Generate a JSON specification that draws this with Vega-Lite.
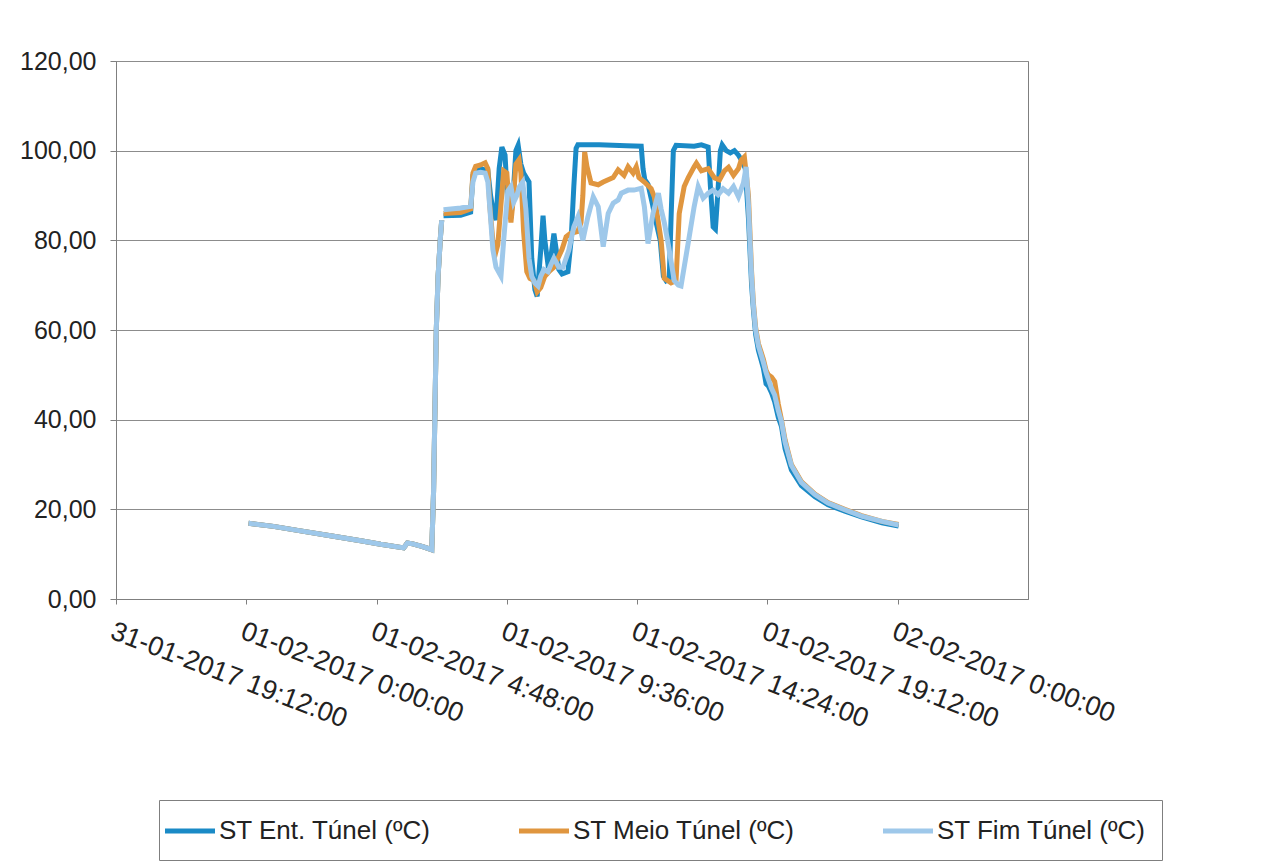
{
"$schema": "https://vega.github.io/schema/vega-lite/v6.json",
"width": 912, "height": 538,
"autosize": {"type": "none"},
"padding": {"left": 116, "top": 61, "right": 236, "bottom": 265},
"background": "white",
"config": {"font": "Liberation Sans", "view": {"stroke": "#7f7f7f", "strokeWidth": 1}},
"datasets": {
"pre": [
{"t":"2017-02-01T00:05","v":16.9},{"t":"2017-02-01T01:00","v":16.2},{"t":"2017-02-01T02:00","v":15.2},{"t":"2017-02-01T03:06","v":14.1},{"t":"2017-02-01T04:13","v":13.0},{"t":"2017-02-01T04:57","v":12.2},{"t":"2017-02-01T05:48","v":11.4},{"t":"2017-02-01T05:56","v":12.5},{"t":"2017-02-01T06:08","v":12.3},{"t":"2017-02-01T06:30","v":11.7},{"t":"2017-02-01T06:50","v":11.0},{"t":"2017-02-01T06:54","v":24},{"t":"2017-02-01T06:57","v":42},{"t":"2017-02-01T07:00","v":60},{"t":"2017-02-01T07:04","v":72},{"t":"2017-02-01T07:09","v":80.5},{"t":"2017-02-01T07:12","v":84.5}
],
"ent": [
{"t":"2017-02-01T07:16","v":85.5},{"t":"2017-02-01T07:54","v":85.6},{"t":"2017-02-01T08:16","v":86.3},{"t":"2017-02-01T08:21","v":94.5},{"t":"2017-02-01T08:27","v":95.8},{"t":"2017-02-01T08:38","v":96.0},{"t":"2017-02-01T08:54","v":95.5},{"t":"2017-02-01T09:00","v":90},{"t":"2017-02-01T09:05","v":87},{"t":"2017-02-01T09:12","v":84.5},{"t":"2017-02-01T09:19","v":96},{"t":"2017-02-01T09:25","v":100.8},{"t":"2017-02-01T09:32","v":99},{"t":"2017-02-01T09:38","v":88},{"t":"2017-02-01T09:45","v":85},{"t":"2017-02-01T09:51","v":92},{"t":"2017-02-01T09:56","v":100},{"t":"2017-02-01T10:01","v":101.2},{"t":"2017-02-01T10:07","v":97},{"t":"2017-02-01T10:13","v":95},{"t":"2017-02-01T10:25","v":93},{"t":"2017-02-01T10:31","v":76},{"t":"2017-02-01T10:38","v":69},{"t":"2017-02-01T10:43","v":67.5},{"t":"2017-02-01T10:51","v":78},{"t":"2017-02-01T10:56","v":85.5},{"t":"2017-02-01T11:00","v":80},{"t":"2017-02-01T11:07","v":74.5},{"t":"2017-02-01T11:13","v":76},{"t":"2017-02-01T11:20","v":81.5},{"t":"2017-02-01T11:25","v":78},{"t":"2017-02-01T11:31","v":73.5},{"t":"2017-02-01T11:38","v":72.5},{"t":"2017-02-01T11:51","v":73},{"t":"2017-02-01T11:58","v":80},{"t":"2017-02-01T12:04","v":92},{"t":"2017-02-01T12:09","v":100.5},{"t":"2017-02-01T12:13","v":101.3},{"t":"2017-02-01T13:00","v":101.3},{"t":"2017-02-01T14:00","v":101.1},{"t":"2017-02-01T14:33","v":101.0},{"t":"2017-02-01T14:37","v":96},{"t":"2017-02-01T14:41","v":93.5},{"t":"2017-02-01T14:48","v":92.5},{"t":"2017-02-01T14:58","v":88},{"t":"2017-02-01T15:06","v":84},{"t":"2017-02-01T15:15","v":80},{"t":"2017-02-01T15:22","v":72},{"t":"2017-02-01T15:28","v":71},{"t":"2017-02-01T15:35","v":71.5},{"t":"2017-02-01T15:39","v":85},{"t":"2017-02-01T15:44","v":100},{"t":"2017-02-01T15:50","v":101.2},{"t":"2017-02-01T16:30","v":101.0},{"t":"2017-02-01T16:46","v":101.3},{"t":"2017-02-01T17:01","v":100.8},{"t":"2017-02-01T17:06","v":92},{"t":"2017-02-01T17:12","v":83},{"t":"2017-02-01T17:17","v":82.5},{"t":"2017-02-01T17:22","v":90},{"t":"2017-02-01T17:28","v":100},{"t":"2017-02-01T17:32","v":101.3},{"t":"2017-02-01T17:41","v":100},{"t":"2017-02-01T17:50","v":99.5},{"t":"2017-02-01T17:59","v":100},{"t":"2017-02-01T18:08","v":99},{"t":"2017-02-01T18:17","v":97.5},{"t":"2017-02-01T18:23","v":96},{"t":"2017-02-01T18:30","v":85},{"t":"2017-02-01T18:37","v":70},{"t":"2017-02-01T18:41","v":64.5},{"t":"2017-02-01T18:46","v":59},{"t":"2017-02-01T18:52","v":55.5},{"t":"2017-02-01T19:03","v":51.5},{"t":"2017-02-01T19:09","v":48},{"t":"2017-02-01T19:14","v":47.5},{"t":"2017-02-01T19:21","v":46},{"t":"2017-02-01T19:28","v":44},{"t":"2017-02-01T19:36","v":40.5},{"t":"2017-02-01T19:43","v":38.5},{"t":"2017-02-01T19:51","v":33.5},{"t":"2017-02-01T20:05","v":28.8},{"t":"2017-02-01T20:27","v":25.3},{"t":"2017-02-01T20:57","v":22.8},{"t":"2017-02-01T21:26","v":21},{"t":"2017-02-01T22:03","v":19.6},{"t":"2017-02-01T22:40","v":18.3},{"t":"2017-02-01T23:25","v":17.0},{"t":"2017-02-02T00:02","v":16.3}
],
"meio": [
{"t":"2017-02-01T07:16","v":86.0},{"t":"2017-02-01T07:54","v":86.2},{"t":"2017-02-01T08:16","v":87.0},{"t":"2017-02-01T08:21","v":95},{"t":"2017-02-01T08:27","v":96.5},{"t":"2017-02-01T08:38","v":96.8},{"t":"2017-02-01T08:48","v":97.3},{"t":"2017-02-01T08:54","v":96},{"t":"2017-02-01T08:58","v":88},{"t":"2017-02-01T09:05","v":80},{"t":"2017-02-01T09:12","v":77.5},{"t":"2017-02-01T09:16","v":79},{"t":"2017-02-01T09:23","v":88},{"t":"2017-02-01T09:29","v":95.5},{"t":"2017-02-01T09:36","v":95},{"t":"2017-02-01T09:41","v":88},{"t":"2017-02-01T09:45","v":84},{"t":"2017-02-01T09:51","v":90},{"t":"2017-02-01T09:56","v":97},{"t":"2017-02-01T10:03","v":98},{"t":"2017-02-01T10:07","v":95},{"t":"2017-02-01T10:13","v":82},{"t":"2017-02-01T10:20","v":73},{"t":"2017-02-01T10:27","v":71.5},{"t":"2017-02-01T10:36","v":71},{"t":"2017-02-01T10:43","v":68.5},{"t":"2017-02-01T10:51","v":69.5},{"t":"2017-02-01T11:00","v":72},{"t":"2017-02-01T11:09","v":73},{"t":"2017-02-01T11:20","v":74},{"t":"2017-02-01T11:29","v":76},{"t":"2017-02-01T11:38","v":78},{"t":"2017-02-01T11:47","v":80.8},{"t":"2017-02-01T11:56","v":81.5},{"t":"2017-02-01T12:13","v":82},{"t":"2017-02-01T12:20","v":84},{"t":"2017-02-01T12:24","v":90},{"t":"2017-02-01T12:28","v":99.7},{"t":"2017-02-01T12:33","v":96.5},{"t":"2017-02-01T12:42","v":92.8},{"t":"2017-02-01T12:58","v":92.4},{"t":"2017-02-01T13:09","v":93},{"t":"2017-02-01T13:31","v":94},{"t":"2017-02-01T13:42","v":95.7},{"t":"2017-02-01T13:55","v":94.5},{"t":"2017-02-01T14:04","v":96.4},{"t":"2017-02-01T14:15","v":95},{"t":"2017-02-01T14:22","v":96.4},{"t":"2017-02-01T14:28","v":94},{"t":"2017-02-01T14:40","v":93},{"t":"2017-02-01T14:55","v":91.5},{"t":"2017-02-01T15:02","v":89.7},{"t":"2017-02-01T15:11","v":84},{"t":"2017-02-01T15:17","v":80},{"t":"2017-02-01T15:24","v":71.5},{"t":"2017-02-01T15:39","v":70.5},{"t":"2017-02-01T15:50","v":71},{"t":"2017-02-01T15:57","v":86},{"t":"2017-02-01T16:08","v":92},{"t":"2017-02-01T16:17","v":94},{"t":"2017-02-01T16:30","v":96.4},{"t":"2017-02-01T16:35","v":97.2},{"t":"2017-02-01T16:46","v":95.5},{"t":"2017-02-01T17:01","v":96},{"t":"2017-02-01T17:15","v":93.9},{"t":"2017-02-01T17:26","v":93.5},{"t":"2017-02-01T17:37","v":95.5},{"t":"2017-02-01T17:46","v":96.3},{"t":"2017-02-01T17:57","v":94.5},{"t":"2017-02-01T18:08","v":96},{"t":"2017-02-01T18:14","v":97.9},{"t":"2017-02-01T18:21","v":98.6},{"t":"2017-02-01T18:25","v":95},{"t":"2017-02-01T18:30","v":90},{"t":"2017-02-01T18:37","v":73},{"t":"2017-02-01T18:41","v":66},{"t":"2017-02-01T18:46","v":60.5},{"t":"2017-02-01T18:52","v":57},{"t":"2017-02-01T19:03","v":53.5},{"t":"2017-02-01T19:09","v":51},{"t":"2017-02-01T19:14","v":50},{"t":"2017-02-01T19:21","v":49.5},{"t":"2017-02-01T19:28","v":48.5},{"t":"2017-02-01T19:36","v":43.5},{"t":"2017-02-01T19:43","v":40},{"t":"2017-02-01T19:51","v":35.5},{"t":"2017-02-01T20:05","v":30},{"t":"2017-02-01T20:27","v":26.2},{"t":"2017-02-01T20:57","v":23.4},{"t":"2017-02-01T21:26","v":21.5},{"t":"2017-02-01T22:03","v":20},{"t":"2017-02-01T22:40","v":18.6},{"t":"2017-02-01T23:25","v":17.3},{"t":"2017-02-02T00:02","v":16.6}
],
"fim": [
{"t":"2017-02-01T07:16","v":86.8},{"t":"2017-02-01T07:54","v":87.2},{"t":"2017-02-01T08:16","v":87.6},{"t":"2017-02-01T08:21","v":93},{"t":"2017-02-01T08:27","v":95},{"t":"2017-02-01T08:38","v":95.2},{"t":"2017-02-01T08:48","v":95},{"t":"2017-02-01T08:54","v":93},{"t":"2017-02-01T09:00","v":85},{"t":"2017-02-01T09:05","v":78},{"t":"2017-02-01T09:12","v":74},{"t":"2017-02-01T09:23","v":72},{"t":"2017-02-01T09:29","v":80},{"t":"2017-02-01T09:38","v":91},{"t":"2017-02-01T09:45","v":92},{"t":"2017-02-01T09:51","v":88.5},{"t":"2017-02-01T09:58","v":90},{"t":"2017-02-01T10:04","v":92},{"t":"2017-02-01T10:11","v":93},{"t":"2017-02-01T10:18","v":87},{"t":"2017-02-01T10:25","v":76},{"t":"2017-02-01T10:31","v":72},{"t":"2017-02-01T10:38","v":70.5},{"t":"2017-02-01T10:45","v":69.8},{"t":"2017-02-01T10:51","v":72},{"t":"2017-02-01T10:58","v":73.5},{"t":"2017-02-01T11:07","v":73},{"t":"2017-02-01T11:13","v":74.5},{"t":"2017-02-01T11:20","v":76},{"t":"2017-02-01T11:31","v":74},{"t":"2017-02-01T11:40","v":74},{"t":"2017-02-01T11:53","v":77.8},{"t":"2017-02-01T12:04","v":83},{"t":"2017-02-01T12:13","v":85.2},{"t":"2017-02-01T12:24","v":80},{"t":"2017-02-01T12:35","v":85.2},{"t":"2017-02-01T12:47","v":89.7},{"t":"2017-02-01T12:58","v":87.5},{"t":"2017-02-01T13:09","v":78.6},{"t":"2017-02-01T13:20","v":86},{"t":"2017-02-01T13:31","v":88.3},{"t":"2017-02-01T13:42","v":89},{"t":"2017-02-01T13:49","v":90.5},{"t":"2017-02-01T14:04","v":91.2},{"t":"2017-02-01T14:17","v":91.2},{"t":"2017-02-01T14:33","v":91.6},{"t":"2017-02-01T14:40","v":87.5},{"t":"2017-02-01T14:48","v":79.3},{"t":"2017-02-01T14:59","v":86},{"t":"2017-02-01T15:11","v":90.5},{"t":"2017-02-01T15:17","v":87},{"t":"2017-02-01T15:24","v":84},{"t":"2017-02-01T15:33","v":79},{"t":"2017-02-01T15:46","v":71},{"t":"2017-02-01T15:55","v":70},{"t":"2017-02-01T16:01","v":69.8},{"t":"2017-02-01T16:17","v":79.5},{"t":"2017-02-01T16:30","v":87.5},{"t":"2017-02-01T16:39","v":92},{"t":"2017-02-01T16:50","v":89.4},{"t":"2017-02-01T17:01","v":90.5},{"t":"2017-02-01T17:12","v":91.2},{"t":"2017-02-01T17:23","v":90.2},{"t":"2017-02-01T17:34","v":91.5},{"t":"2017-02-01T17:46","v":90.5},{"t":"2017-02-01T17:57","v":92},{"t":"2017-02-01T18:08","v":89.7},{"t":"2017-02-01T18:19","v":92.8},{"t":"2017-02-01T18:25","v":96.4},{"t":"2017-02-01T18:30","v":88},{"t":"2017-02-01T18:37","v":72},{"t":"2017-02-01T18:41","v":65.5},{"t":"2017-02-01T18:46","v":60},{"t":"2017-02-01T18:52","v":56.5},{"t":"2017-02-01T19:03","v":52.8},{"t":"2017-02-01T19:09","v":50.5},{"t":"2017-02-01T19:14","v":49},{"t":"2017-02-01T19:21","v":47},{"t":"2017-02-01T19:28","v":45.5},{"t":"2017-02-01T19:36","v":42},{"t":"2017-02-01T19:43","v":39.6},{"t":"2017-02-01T19:51","v":35},{"t":"2017-02-01T20:05","v":29.8},{"t":"2017-02-01T20:27","v":26},{"t":"2017-02-01T20:57","v":23.3},{"t":"2017-02-01T21:26","v":21.4},{"t":"2017-02-01T22:03","v":19.9},{"t":"2017-02-01T22:40","v":18.5},{"t":"2017-02-01T23:25","v":17.3},{"t":"2017-02-02T00:02","v":16.5}
]
},
"encoding": {
  "x": {"field": "t", "type": "temporal",
    "scale": {"domain": [{"year":2017,"month":1,"date":31,"hours":19,"minutes":12},{"year":2017,"month":2,"date":2,"hours":4,"minutes":48}], "nice": false},
    "axis": {"title": null, "values": [
      {"year":2017,"month":1,"date":31,"hours":19,"minutes":12},
      {"year":2017,"month":2,"date":1,"hours":0,"minutes":0},
      {"year":2017,"month":2,"date":1,"hours":4,"minutes":48},
      {"year":2017,"month":2,"date":1,"hours":9,"minutes":36},
      {"year":2017,"month":2,"date":1,"hours":14,"minutes":24},
      {"year":2017,"month":2,"date":1,"hours":19,"minutes":12},
      {"year":2017,"month":2,"date":2,"hours":0,"minutes":0}],
      "format": "%d-%m-%Y %-H:%M:%S", "labelAngle": 21, "labelAlign": "left", "labelBaseline": "top",
      "labelPadding": 14, "labelFontSize": 27, "labelColor": "#222222", "labelOverlap": false, "labelBound": false, "labelFlush": false, "labelLimit": 0,
      "grid": false, "domainColor": "#7f7f7f", "tickColor": "#7f7f7f", "tickSize": 5}},
  "y": {"field": "v", "type": "quantitative",
    "scale": {"domain": [0, 120], "nice": false},
    "axis": {"title": null, "values": [0,20,40,60,80,100,120],
      "labelExpr": "replace(format(datum.value, '.2f'), '.', ',')",
      "labelFontSize": 25, "labelPadding": 14, "labelColor": "#222222", "tickSize": 6,
      "grid": true, "gridColor": "#8c8c8c", "domainColor": "#7f7f7f", "tickColor": "#7f7f7f"}}
},
"layer": [
  {"data": {"name": "pre"}, "mark": {"type": "line", "strokeWidth": 5},
   "encoding": {"color": {"datum": "ST Ent. Túnel (ºC)", "type": "nominal",
    "scale": {"domain": ["ST Ent. Túnel (ºC)", "ST Meio Túnel (ºC)", "ST Fim Túnel (ºC)"], "range": ["#1a8ac6", "#e0963f", "#9ec8ea"]},
    "legend": {"title": null, "orient": "none", "legendX": 43, "legendY": 739, "direction": "horizontal", "columns": 3, "columnPadding": 78,
      "symbolType": "M-2,0H2", "symbolSize": 625, "symbolStrokeWidth": 5, "labelOffset": 14, "labelFontSize": 26, "labelLimit": 0,
      "labelColor": "#222222", "strokeColor": "#7f7f7f", "padding": 16}}}},
  {"data": {"name": "ent"}, "mark": {"type": "line", "strokeWidth": 5}, "encoding": {"color": {"datum": "ST Ent. Túnel (ºC)", "type": "nominal"}}},
  {"data": {"name": "pre"}, "mark": {"type": "line", "strokeWidth": 5}, "encoding": {"color": {"datum": "ST Meio Túnel (ºC)", "type": "nominal"}}},
  {"data": {"name": "meio"}, "mark": {"type": "line", "strokeWidth": 5}, "encoding": {"color": {"datum": "ST Meio Túnel (ºC)", "type": "nominal"}}},
  {"data": {"name": "pre"}, "mark": {"type": "line", "strokeWidth": 5}, "encoding": {"color": {"datum": "ST Fim Túnel (ºC)", "type": "nominal"}}},
  {"data": {"name": "fim"}, "mark": {"type": "line", "strokeWidth": 5}, "encoding": {"color": {"datum": "ST Fim Túnel (ºC)", "type": "nominal"}}}
]
}
